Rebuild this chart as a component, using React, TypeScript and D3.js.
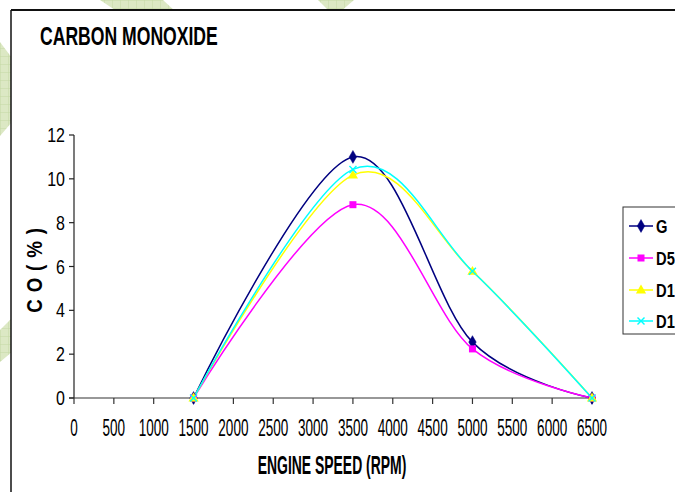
import React from "react";
import * as d3 from "d3";

const rpm = [1500, 3500, 5000, 6500];
const seriesNames = ["G", "D5", "D10", "D15"];
const gValues = [0, 11.0, 2.55, 0];
const d5Values = [0, 8.82, 2.24, 0];
const d10Values = [0, 10.17, 5.78, 0];
const d15Values = [0, 10.43, 5.78, 0];
const seriesColors = ["#000080", "#FF00FF", "#FFFF00", "#00FFFF"];
const xTicks = d3.range(0, 6501, 500);
const yTicks = [0, 2, 4, 6, 8, 10, 12];

const W = 675;
const H = 492;
const FONT = "'Liberation Sans', Arial, sans-serif";

function STxt(props: any) {
  const { x, y, sx = 0.82, sy = 1, size, bold, anchor = "start", children, rotate = 0, spacing = 0 } = props;
  return (
    <text
      transform={`translate(${x},${y}) rotate(${rotate}) scale(${sx},${sy})`}
      fontFamily={FONT}
      fontSize={size}
      fontWeight={bold ? "bold" : "normal"}
      textAnchor={anchor}
      letterSpacing={spacing}
      fill="#000"
      style={{ whiteSpace: "pre" }}
    >
      {children}
    </text>
  );
}

function Marker({ kind, x, y, color }: any) {
  if (kind === 0) {
    const p = d3.symbol().type(d3.symbolDiamond).size(48)();
    return <path d={p as string} transform={`translate(${x},${y})`} fill={color} stroke={color} strokeWidth={0.5} />;
  }
  if (kind === 1) {
    return <rect x={x - 3.5} y={y - 3.5} width={7} height={7} fill={color} />;
  }
  if (kind === 2) {
    const p = d3.symbol().type(d3.symbolTriangle).size(45)();
    return <path d={p as string} transform={`translate(${x},${y + 0.5})`} fill={color} />;
  }
  return (
    <g stroke={color} strokeWidth={1.4}>
      <line x1={x - 3.5} y1={y - 3.5} x2={x + 3.5} y2={y + 3.5} />
      <line x1={x - 3.5} y1={y + 3.5} x2={x + 3.5} y2={y - 3.5} />
    </g>
  );
}

export default function App() {
  const x = d3.scaleLinear().domain([0, 6500]).range([74, 592]);
  const y = d3.scaleLinear().domain([0, 12]).range([398, 135]);
  const all = [gValues, d5Values, d10Values, d15Values];
  const line = d3
    .line<number>()
    .x((_, i) => x(rpm[i]))
    .y((v) => y(v))
    .curve(d3.curveCardinal.tension(0));

  const legendY = [226, 258, 290, 321];

  return (
    <div style={{ position: "absolute", left: 0, top: 0 }}>
      <svg width={W} height={H} style={{ display: "block", background: "#fff" }}>
        <defs>
          <pattern id="grid" width="8" height="8" patternUnits="userSpaceOnUse">
            <rect width="8" height="8" fill="#dce8c4" />
            <path d="M8 0 L0 0 0 8" fill="none" stroke="#c5d9a4" strokeWidth="1" />
          </pattern>
        </defs>
        {/* background watermark shapes */}
        <polygon points="0,42 12,58 12,122 0,136" fill="url(#grid)" />
        <polygon points="0,330 12,318 12,352 0,362" fill="url(#grid)" />
        <polygon points="100,0 163,0 176,12 118,12" fill="url(#grid)" />
        <polygon points="318,0 354,0 340,12 330,12" fill="url(#grid)" />

        {/* chart frame */}
        <rect x={11} y={10} width={700} height={500} fill="#fff" />
        <line x1={11} y1={10} x2={W} y2={10} stroke="#111" strokeWidth={2} />
        <line x1={11} y1={10} x2={11} y2={H} stroke="#111" strokeWidth={1.5} />

        {/* title */}
        <STxt x={40} y={45} size={22} bold sx={0.8} sy={1.18}>CARBON MONOXIDE</STxt>

        {/* axes */}
        <line x1={x(0)} y1={y(0)} x2={x(0)} y2={y(12)} stroke="#222" strokeWidth={1.2} />
        <line x1={x(0) - 5} y1={y(0)} x2={x(6500)} y2={y(0)} stroke="#333" strokeWidth={1.2} />
        {yTicks.map((t) => (
          <g key={"y" + t}>
            <line x1={x(0) - 5} x2={x(0)} y1={y(t)} y2={y(t)} stroke="#222" strokeWidth={1.2} />
            <STxt x={65} y={y(t) + 7} size={19.5} anchor="end">{t}</STxt>
          </g>
        ))}
        {xTicks.map((t) => (
          <g key={"x" + t}>
            <line x1={x(t)} x2={x(t)} y1={y(0)} y2={y(0) + 6} stroke="#333" strokeWidth={1.2} />
            <STxt x={x(t)} y={436} size={16.5} anchor="middle" sy={1.5}>{t}</STxt>
          </g>
        ))}

        {/* axis titles */}
        <STxt x={42} y={270} size={22} bold anchor="middle" rotate={-90} sx={0.85} spacing={1}>{"C\u00A0O\u00A0(\u00A0%\u00A0)"}</STxt>
        <STxt x={332} y={474} size={17} bold anchor="middle" sy={1.5}>ENGINE SPEED (RPM)</STxt>

        {/* series */}
        {all.map((vals, si) => (
          <path key={"l" + si} d={line(vals) as string} fill="none" stroke={seriesColors[si]} strokeWidth={1.5} />
        ))}
        {all.map((vals, si) =>
          vals.map((v, i) => <Marker key={"m" + si + "-" + i} kind={si} x={x(rpm[i])} y={y(v)} color={seriesColors[si]} />)
        )}

        {/* legend */}
        <rect x={623} y={207} width={80} height={127} fill="#fff" stroke="#333" strokeWidth={1} />
        {seriesNames.map((n, i) => (
          <g key={"lg" + n}>
            <line x1={629} x2={653} y1={legendY[i]} y2={legendY[i]} stroke={seriesColors[i]} strokeWidth={1.5} />
            <Marker kind={i} x={641} y={legendY[i]} color={seriesColors[i]} />
            <STxt x={656} y={legendY[i] + 6.5} size={18} bold>{n}</STxt>
          </g>
        ))}
      </svg>
    </div>
  );
}
